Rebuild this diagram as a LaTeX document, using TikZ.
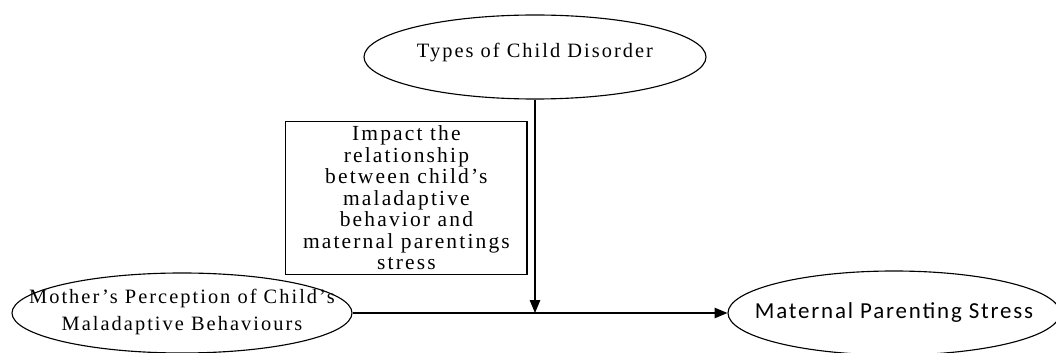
\documentclass[tikz,border=0pt]{standalone}
\usepackage{fontspec}
\setmainfont{Liberation Serif}[LetterSpace=10]
\newfontfamily\calib{Carlito}[LetterSpace=8]
\usetikzlibrary{shapes.geometric}
\usetikzlibrary{arrows.meta}

\begin{document}
\begin{tikzpicture}[oval/.style={ellipse, draw, thick, inner sep=0pt},
	link/.style={thick, -{Triangle[length=0.32cm, width=0.26cm]}},
	txt/.style={font=\fontsize{14.5}{14.6}\selectfont, align=center}]

	\useasboundingbox (0,0) rectangle (26.4,8.8);

	\node[oval, minimum width=8.55cm, minimum height=2.1cm,
		label={[name=a, txt, yshift=0.1cm]center:Types of Child Disorder}] (A) at (13.375,7.375) {};
	\node[draw, thick, txt, font=\fontsize{15.3}{15.3}\selectfont, minimum width=6.03cm, minimum height=3.65cm] (B) at (10.16,3.85)
		{Impact the\\ relationship\\ between child's\\ maladaptive\\ behavior and\\ maternal parentings\\ stress};
	\node[oval, minimum width=8.5cm, minimum height=2.0cm,
		label={[name=c, txt, font=\fontsize{14.5}{19}\selectfont, yshift=0.03cm]center:Mother's Perception of Child's\\ Maladaptive Behaviours}] (C) at (4.55,0.975) {};
	\node[oval, minimum width=8.3cm, minimum height=2.1cm,
		label={[name=d, font=\calib\fontsize{16.3}{16}\selectfont]center:Maternal Parenting Stress}] (D) at (22.35,0.975) {};

	\coordinate (m) at (A.south |- C.east);

	\draw [link] (C.east) to (D.west);
	\draw [link] (A.south) to (m);

\end{tikzpicture}
\end{document}
